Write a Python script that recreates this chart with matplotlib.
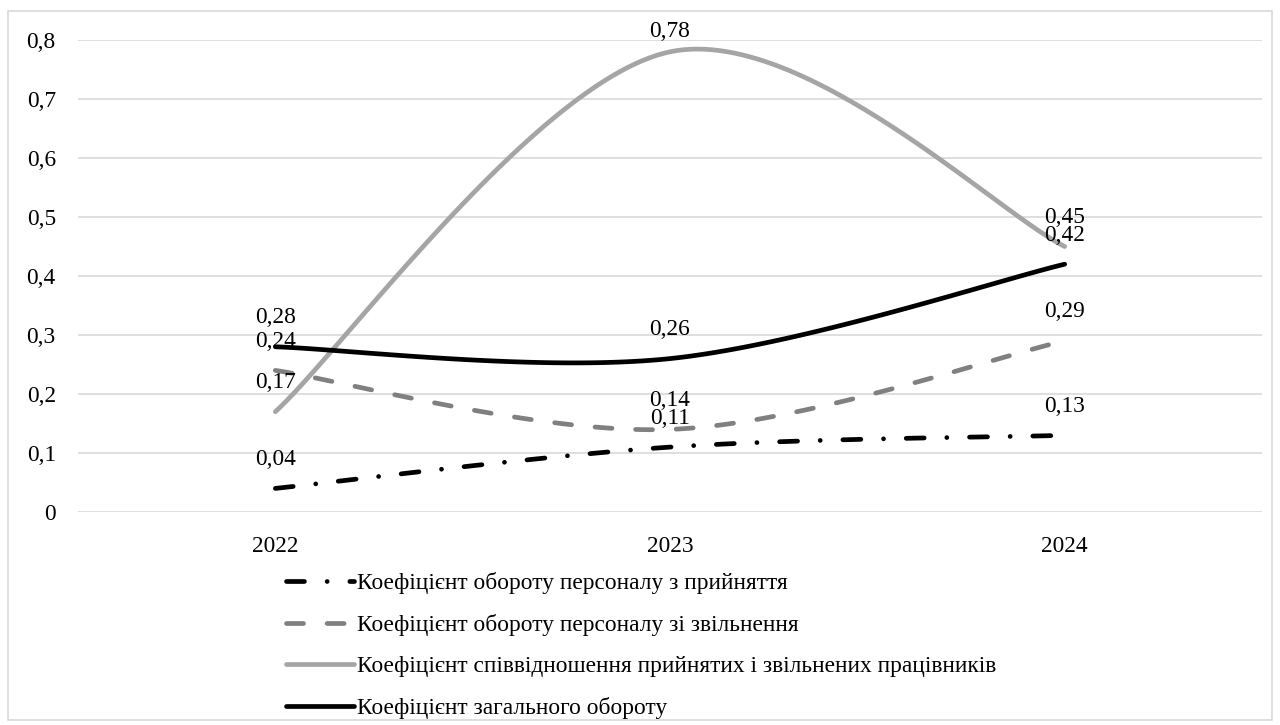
import numpy as np
import matplotlib
matplotlib.use("Agg")
import matplotlib.pyplot as plt
from matplotlib.patches import Rectangle

years = ["2022", "2023", "2024"]
hire_rate = [0.04, 0.11, 0.13]
dismissal_rate = [0.24, 0.14, 0.29]
hire_dismiss_ratio = [0.17, 0.78, 0.45]
total_turnover = [0.28, 0.26, 0.42]

series_names = [
    "Коефіцієнт обороту персоналу з прийняття",
    "Коефіцієнт обороту персоналу зі звільнення",
    "Коефіцієнт співвідношення прийнятих і звільнених працівників",
    "Коефіцієнт загального обороту",
]
y_ticks = [0, 0.1, 0.2, 0.3, 0.4, 0.5, 0.6, 0.7, 0.8]

plt.rcParams["font.family"] = ["Liberation Serif", "DejaVu Serif"]
FS = 16.8


def smooth(xs, ys, n=60):
    """Bezier smoothing through the points (Catmull-Rom style tangents)."""
    pts = np.column_stack([xs, ys]).astype(float)
    m = len(pts)
    out = []
    for i in range(m - 1):
        p0 = pts[i]
        p3 = pts[i + 1]
        prev = pts[i - 1] if i > 0 else pts[i]
        nxt = pts[i + 2] if i + 2 < m else pts[i + 1]
        c1 = p0 + (p3 - prev) / 6.0
        c2 = p3 - (nxt - p0) / 6.0
        t = np.linspace(0, 1, n)[:, None]
        seg = ((1 - t) ** 3) * p0 + 3 * t * (1 - t) ** 2 * c1 + 3 * t ** 2 * (1 - t) * c2 + t ** 3 * p3
        out.append(seg if i == 0 else seg[1:])
    out = np.vstack(out)
    return out[:, 0], out[:, 1]


def fmt(v):
    s = f"{v:.2f}".rstrip("0").rstrip(".")
    return s.replace(".", ",")


fig = plt.figure(figsize=(12.8, 7.25), dpi=100)
fig.patches.append(Rectangle((8 / 1280, 5 / 725), 1264 / 1280, 709 / 725,
                             transform=fig.transFigure, fill=False,
                             edgecolor="#D9D9D9", linewidth=1.2))

ax = fig.add_axes([78 / 1280, 1 - 512 / 725, (1262 - 78) / 1280, (512 - 40) / 725])
x = np.arange(len(years)) + 0.5

LW = 3.4
styles = [
    dict(color="black", lw=LW, dashes=(3.8, 4.8, 0.01, 4.8), dash_capstyle="round"),
    dict(color="#808080", lw=LW, dashes=(3.6, 5.0), dash_capstyle="round"),
    dict(color="#A5A5A5", lw=LW, solid_capstyle="round"),
    dict(color="black", lw=LW, solid_capstyle="round"),
]
all_series = [hire_rate, dismissal_rate, hire_dismiss_ratio, total_turnover]

LABEL_OFFSET = 0.049   # value labels sit above their points
LABEL_TOP = 0.815      # highest position a value label may take

handles = []
for vals, st, name in zip(all_series, styles, series_names):
    sx, sy = smooth(x, vals)
    ln, = ax.plot(sx, sy, label=name, **st)
    handles.append(ln)
    for xi, v in zip(x, vals):
        ax.text(xi, min(v + LABEL_OFFSET, LABEL_TOP), fmt(v), ha="center", va="center",
                fontsize=FS, clip_on=False)

ax.set_xlim(0, 3)
ax.set_ylim(0, 0.8)
ax.set_xticks(x)
ax.set_xticklabels(years, fontsize=FS)
ax.set_yticks(y_ticks)
ax.set_yticklabels([fmt(v) if v else "0" for v in y_ticks], fontsize=FS)
ax.tick_params(length=0)
ax.tick_params(axis="y", pad=16)
ax.tick_params(axis="x", pad=17)
ax.grid(axis="y", color="#D9D9D9", linewidth=1.2)
ax.set_axisbelow(True)
for s in ax.spines.values():
    s.set_visible(False)

fig.legend(handles=handles, loc="upper left", bbox_to_anchor=(286 / 1280, 1 - 572 / 725),
           frameon=False, fontsize=FS, handlelength=2.9, handletextpad=0.15,
           labelspacing=0.85, borderaxespad=0, borderpad=0)

fig.savefig("out.png", dpi=100)
